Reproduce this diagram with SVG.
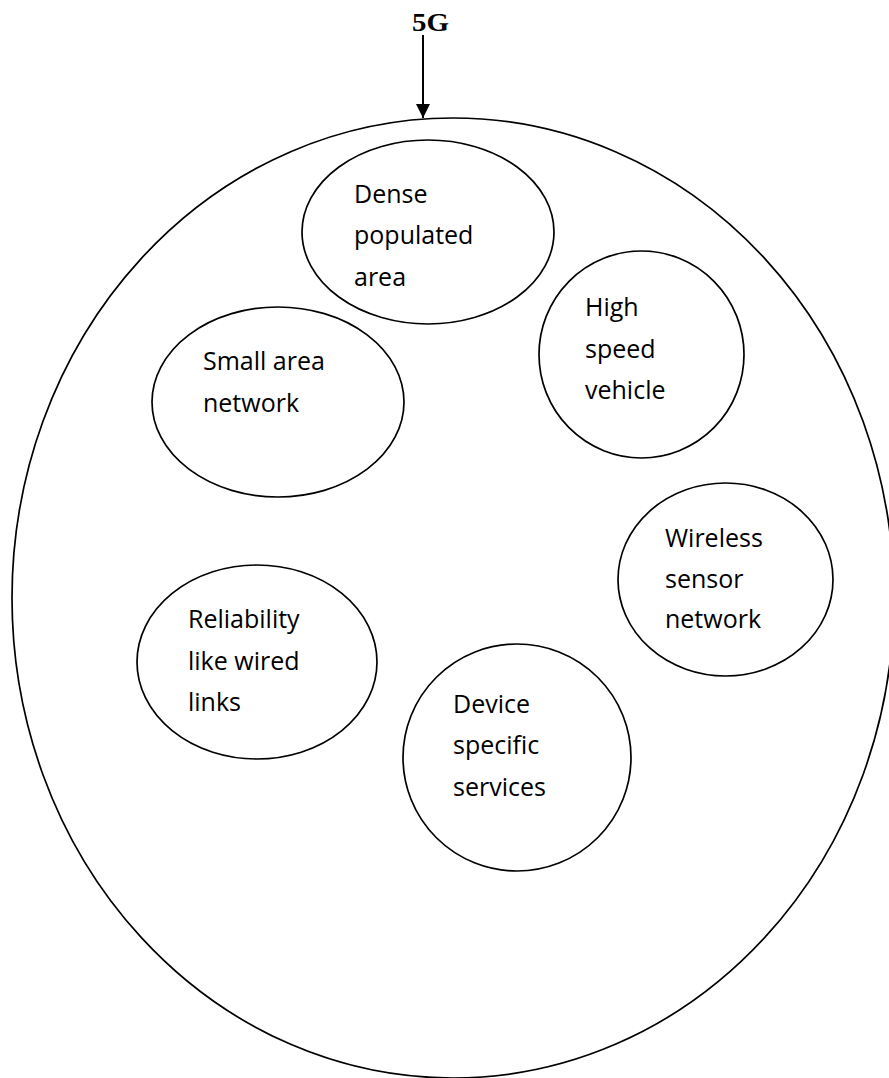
<svg xmlns="http://www.w3.org/2000/svg" width="889" height="1078" viewBox="0 0 889 1078">
<defs>
<style>
.shape{fill:none;stroke:#000;stroke-width:1.7}
.lbl{font-family:"Open Sans","Noto Sans",sans-serif;font-size:25px;fill:#000}
.title{font-family:"Liberation Serif",serif;font-weight:bold;font-size:26px;fill:#000}
</style>
<marker id="arr" markerWidth="14" markerHeight="14" refX="14" refY="7" orient="auto" markerUnits="userSpaceOnUse">
<path d="M0,0 L14,7 L0,14 Z" fill="#000"/>
</marker>
</defs>
<rect width="889" height="1078" fill="#fff"/>
<g id="outer"><ellipse class="shape" cx="453" cy="598" rx="441" ry="480" stroke-width="2"/></g>
<g id="title"><text class="title" x="412" y="31" textLength="37" lengthAdjust="spacingAndGlyphs">5G</text></g>
<g id="connectors"><line x1="423" y1="35" x2="423" y2="118" stroke="#000" stroke-width="2" marker-end="url(#arr)"/></g>
<g id="dense"><ellipse class="shape" cx="428" cy="232" rx="126" ry="92"/>
<text class="lbl" x="354" y="203">Dense</text><text class="lbl" x="354" y="244">populated</text><text class="lbl" x="354" y="286">area</text></g>
<g id="small"><ellipse class="shape" cx="278" cy="402" rx="126" ry="95"/>
<text class="lbl" x="203" y="370">Small area</text><text class="lbl" x="203" y="412">network</text></g>
<g id="high"><ellipse class="shape" cx="641.5" cy="354.5" rx="102.5" ry="103.5"/>
<text class="lbl" x="585" y="316">High</text><text class="lbl" x="585" y="358">speed</text><text class="lbl" x="585" y="399">vehicle</text></g>
<g id="wireless"><ellipse class="shape" cx="725.5" cy="579.5" rx="107.5" ry="96.5"/>
<text class="lbl" x="665" y="547">Wireless</text><text class="lbl" x="665" y="588">sensor</text><text class="lbl" x="665" y="628">network</text></g>
<g id="reliability"><ellipse class="shape" cx="257" cy="662" rx="120" ry="97"/>
<text class="lbl" x="188" y="628">Reliability</text><text class="lbl" x="188" y="670">like wired</text><text class="lbl" x="188" y="711">links</text></g>
<g id="device"><ellipse class="shape" cx="517" cy="757.5" rx="114" ry="113.5"/>
<text class="lbl" x="453" y="713">Device</text><text class="lbl" x="453" y="754">specific</text><text class="lbl" x="453" y="796">services</text></g>
</svg>
